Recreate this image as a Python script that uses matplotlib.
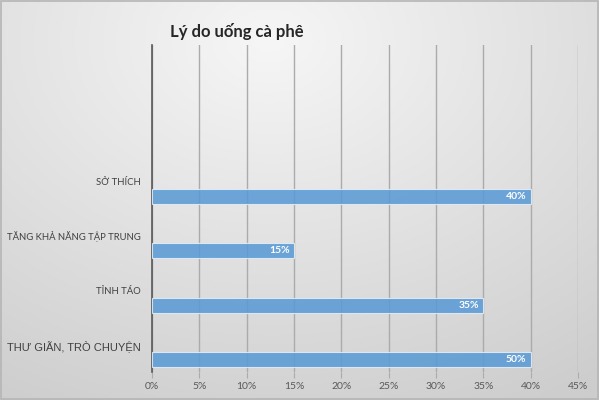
import numpy as np
import matplotlib
matplotlib.use('Agg')
import matplotlib.pyplot as plt
from matplotlib.patches import Rectangle

# du lieu doc tu hinh
categories = ['THƯ GIÃN, TRÒ CHUYỆN', 'TỈNH TÁO', 'TĂNG KHẢ NĂNG TẬP TRUNG', 'SỞ THÍCH', '', '']
values = [0.40, 0.35, 0.15, 0.40]          # do dai thanh
value_labels = ['50%', '35%', '15%', '40%']  # chu ghi tren thanh (giu nguyen nhu hinh goc)
xticks = [0, 0.05, 0.10, 0.15, 0.20, 0.25, 0.30, 0.35, 0.40, 0.45]

plt.rcParams['font.family'] = ['Lato', 'DejaVu Sans']

fig = plt.figure(figsize=(5.99, 4.0), dpi=100)

# nen gradient xam
bg = fig.add_axes([0, 0, 1, 1], zorder=-10)
gx, gy = np.meshgrid(np.linspace(0, 1, 300), np.linspace(0, 1, 200))
r = np.sqrt(((gx - 0.45) / 1.0) ** 2 + ((gy - 0.1) / 1.1) ** 2)
r = np.clip(r / 0.95, 0, 1)
bg.imshow(r, cmap=matplotlib.colors.LinearSegmentedColormap.from_list('g', ['#f6f6f6', '#cdcdcd']),
          extent=[0, 1, 0, 1], aspect='auto', origin='upper')
bg.add_patch(Rectangle((0.001, 0.002), 0.997, 0.995, fill=False, edgecolor='#b5b5b5', lw=1.2))
bg.set_xlim(0, 1)
bg.set_ylim(0, 1)
bg.axis('off')

ax = fig.add_axes([152 / 599, 1 - 372 / 400, 426 / 599, 327 / 400])
ax.set_facecolor('none')

ypos = np.arange(len(categories))
ax.barh(ypos[:len(values)] - 0.275, values, height=0.27, color='#5b9bd5', alpha=0.88,
        edgecolor='#e4eef8', linewidth=0.8, zorder=3)
for y, v, t in zip(ypos, values, value_labels):
    ax.annotate(t, (v, y - 0.275), xytext=(-3, 0), textcoords='offset points',
                ha='right', va='center', color='white', fontsize=7.5, fontweight='bold', zorder=4)

ax.set_xlim(0, 0.45)
ax.set_ylim(-0.5, 5.5)
ax.set_xticks(xticks)
ax.set_xticklabels(['{:.0f}%'.format(x * 100) for x in xticks])
ax.set_yticks(ypos)
ax.set_yticklabels(categories)
ax.xaxis.grid(True, color='#ababab', linewidth=1, zorder=0)
ax.tick_params(axis='x', length=4.5, color='#ababab', labelcolor='#595959', labelsize=7.5, pad=3)
ax.tick_params(axis='y', length=0, labelcolor='#404040', labelsize=6.8, pad=8)
for lab in ax.get_yticklabels():
    if lab.get_text().startswith('THƯ'):
        lab.set_fontfamily('Liberation Sans')
        lab.set_fontsize(8)
for s in ['top', 'right', 'bottom']:
    ax.spines[s].set_visible(False)
ax.spines['left'].set_color('#595959')
ax.spines['left'].set_linewidth(1.2)

fig.text(237 / 599, 1 - 32 / 400, 'Lý do uống cà phê', ha='center', va='center',
         fontsize=12, fontweight='bold', color='#262626')

fig.savefig('out.png', dpi=100)
